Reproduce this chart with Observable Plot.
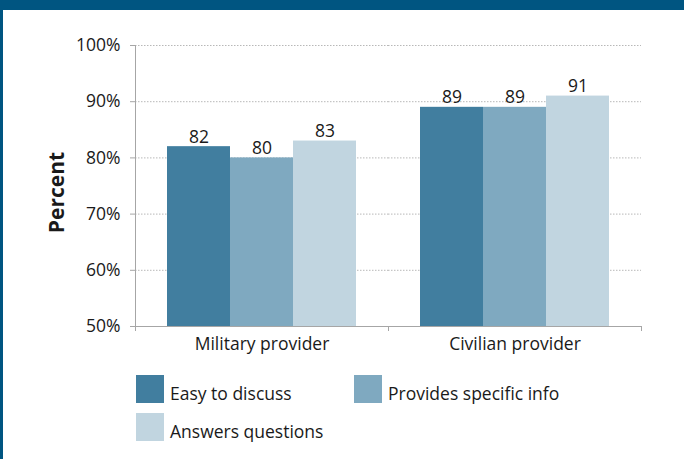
<!DOCTYPE html>
<html>
<head>
<meta charset="utf-8">
<script src="https://cdn.jsdelivr.net/npm/d3@7"></script>
<script src="https://cdn.jsdelivr.net/npm/@observablehq/plot@0.6"></script>
<style>
  html, body { margin: 0; padding: 0; background: #fff; }
  #wrap { position: relative; width: 684px; height: 459px; overflow: hidden; background: #fff;
          font-family: 'Open Sans', sans-serif; color: #1a1a1a; }
  #band { position: absolute; left: 0; top: 0; width: 684px; height: 10px; background: #005581; z-index: 3; }
  #lborder { position: absolute; left: 0; top: 0; width: 3px; height: 459px; background: #005581; z-index: 3; }
  #chart { position: absolute; left: 0; top: 0; }
  #legend { position: absolute; left: 136px; top: 375px; display: grid;
            grid-template-columns: 218px auto; row-gap: 10px; font-size: 17.5px; }
  .item { display: flex; align-items: flex-end; height: 28px; }
  .sw { width: 28px; height: 28px; flex: none; }
  .lab { line-height: 1; margin-left: 6px; margin-bottom: 1px; white-space: nowrap; }
</style>
</head>
<body>
<div id="wrap">
  <div id="band"></div>
  <div id="lborder"></div>
  <div id="chart"></div>
  <div id="legend"></div>
</div>
<script>
const categories = ["Military provider", "Civilian provider"];
const series = ["Easy to discuss", "Provides specific info", "Answers questions"];
const militaryValues = [82, 80, 83];
const civilianValues = [89, 89, 91];
const yTicks = [50, 60, 70, 80, 90, 100];
const colors = ["#417e9f", "#7fa9c0", "#c1d5e0"];
const yLabel = "Percent";

const valuesByCategory = [militaryValues, civilianValues];
const data = categories.flatMap((c, i) =>
  series.map((s, j) => ({category: c, series: s, value: valuesByCategory[i][j]})));

const axisGrey = "#a6a6a6";
const ink = "#1a1a1a";

const svg = Plot.plot({
  width: 684,
  height: 360,
  marginTop: 45,
  marginBottom: 34,
  marginLeft: 135,
  marginRight: 43,
  style: {fontFamily: "'Open Sans', sans-serif", fontSize: "17.5px", color: ink, background: "transparent", overflow: "visible"},
  fx: {domain: categories, padding: 0, label: null},
  x: {domain: series, paddingInner: 0, paddingOuter: 0.5, axis: null},
  y: {domain: [yTicks[0], yTicks[yTicks.length - 1]]},
  color: {domain: series, range: colors},
  marks: [
    Plot.gridY(yTicks.slice(1), {stroke: "#b8b8b8", strokeOpacity: 1, strokeDasharray: "1.5,1.5"}),
    Plot.barY(data, {fx: "category", x: "series", y1: yTicks[0], y2: "value", fill: "series"}),
    Plot.text(data, {fx: "category", x: "series", y: "value", text: d => String(d.value),
      lineAnchor: "bottom", dy: -4, fontSize: 17.5, fill: ink}),
    Plot.ruleY([yTicks[0]], {stroke: axisGrey}),
    Plot.axisY(yTicks, {tickSize: 5, tickPadding: 10, tickFormat: d => d + "%",
      stroke: axisGrey, fill: ink, label: null, fontSize: 17.5}),
    Plot.axisFx({anchor: "bottom", tickSize: 0, tickPadding: 11, label: null, fill: ink, fontSize: 17.5}),
    Plot.text([yLabel], {fx: () => categories[0], frameAnchor: "left", dx: -78.5, dy: 6.5,
      rotate: -90, textAnchor: "middle", lineAnchor: "middle", fontSize: 21, fontWeight: "bold", fill: ink})
  ]
});

// axis line on the left and boundary ticks of the category axis, from the plot's own scales
const fxS = svg.scale("fx");
const yS = svg.scale("y");
const band = d3.scaleBand().domain(fxS.domain).range(fxS.range)
  .paddingInner(fxS.paddingInner ?? 0).paddingOuter(fxS.paddingOuter ?? 0);
const yLin = d3.scaleLinear().domain(yS.domain).range(yS.range);
const g = d3.select(svg).append("g").attr("stroke", axisGrey).attr("stroke-width", 1);
const left = band(categories[0]);
const y0 = yLin(yTicks[0]);
g.append("line").attr("x1", left + 0.5).attr("x2", left + 0.5)
  .attr("y1", yLin(yTicks[yTicks.length - 1])).attr("y2", y0);
const edges = new Set();
categories.forEach(c => { edges.add(band(c)); edges.add(band(c) + band.bandwidth()); });
[...edges].forEach(e => {
  const x = Math.round(e) + 0.5;
  g.append("line").attr("x1", x).attr("x2", x).attr("y1", y0).attr("y2", y0 + 5);
});

document.getElementById("chart").appendChild(svg);

// legend
const legend = document.getElementById("legend");
series.forEach((s, i) => {
  const item = document.createElement("div");
  item.className = "item";
  const sw = document.createElement("div");
  sw.className = "sw";
  sw.style.background = colors[i];
  const lab = document.createElement("span");
  lab.className = "lab";
  lab.textContent = s;
  item.appendChild(sw);
  item.appendChild(lab);
  legend.appendChild(item);
});
</script>
</body>
</html>
